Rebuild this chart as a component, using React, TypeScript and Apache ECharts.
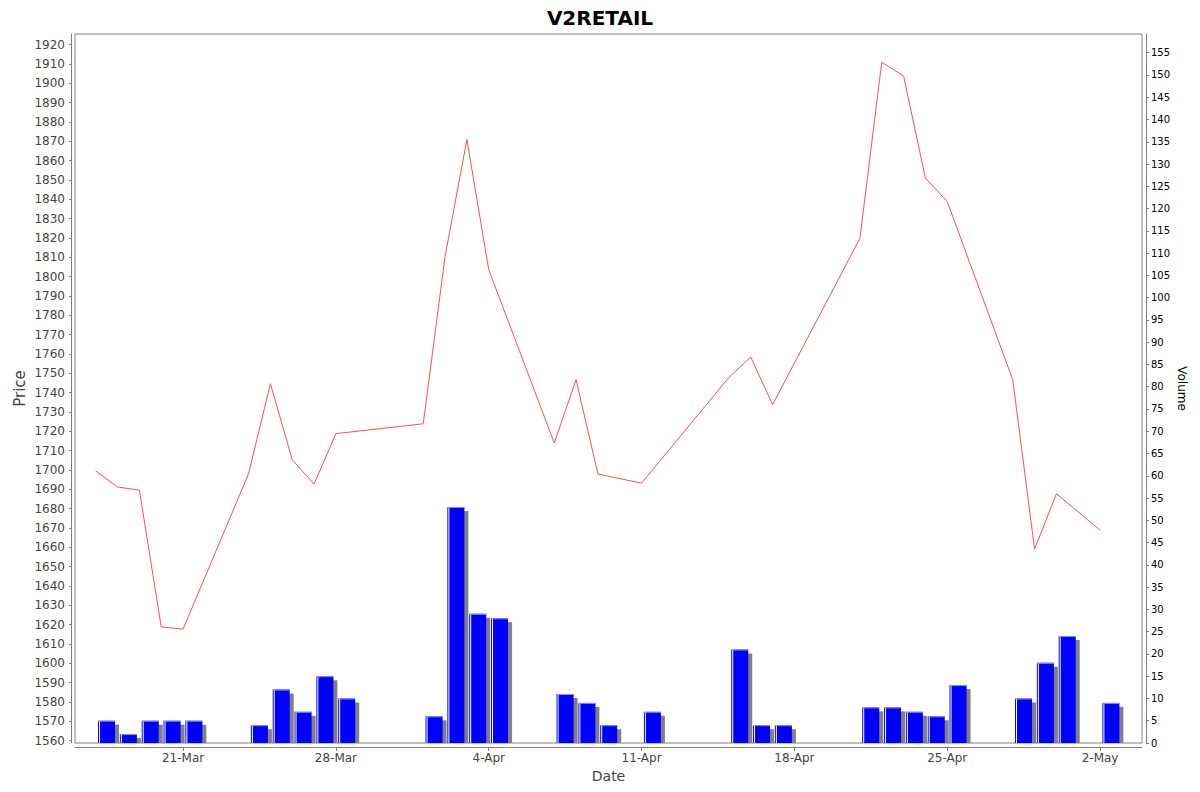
import { useEffect, useRef } from 'react';
import * as echarts from 'echarts';

const FONT = 'DejaVu Sans';
const DAY = 86400000;
const MONTHS = ['Jan', 'Feb', 'Mar', 'Apr', 'May', 'Jun', 'Jul', 'Aug', 'Sep', 'Oct', 'Nov', 'Dec'];

// trading days
const dates = [
  '2025-03-17', '2025-03-18', '2025-03-19', '2025-03-20', '2025-03-21',
  '2025-03-24', '2025-03-25', '2025-03-26', '2025-03-27', '2025-03-28',
  '2025-04-01', '2025-04-02', '2025-04-03', '2025-04-04',
  '2025-04-07', '2025-04-08', '2025-04-09', '2025-04-11',
  '2025-04-15', '2025-04-16', '2025-04-17',
  '2025-04-21', '2025-04-22', '2025-04-23', '2025-04-24', '2025-04-25',
  '2025-04-28', '2025-04-29', '2025-04-30', '2025-05-02'
];

const prices = [
  1699.5, 1691.2, 1689.6, 1618.8, 1617.7,
  1698.1, 1744.6, 1705.3, 1692.7, 1718.8,
  1723.9, 1810.5, 1870.9, 1803.6,
  1714.0, 1746.7, 1697.9, 1693.2,
  1747.9, 1758.4, 1733.8,
  1819.8, 1910.9, 1903.8, 1851.0, 1838.8,
  1746.7, 1659.1, 1687.7, 1668.9
];

const volumes = [
  5, 2, 5, 5, 5,
  4, 12, 7, 15, 10,
  6, 53, 29, 28,
  11, 9, 4, 7,
  21, 4, 4,
  8, 8, 7, 6, 13,
  10, 18, 24, 9
];

const dateTicks = ['2025-03-21', '2025-03-28', '2025-04-04', '2025-04-11', '2025-04-18', '2025-04-25', '2025-05-02'];

const priceTicks: number[] = [];
for (let p = 1560; p <= 1920; p += 10) priceTicks.push(p);
const volumeTicks: number[] = [];
for (let v = 0; v <= 155; v += 5) volumeTicks.push(v);

function toTime(s: string) {
  const [y, m, d] = s.split('-').map(Number);
  return new Date(y, m - 1, d).getTime();
}

function renderVolumeBar(params, api) {
  const t = api.value(0);
  const v = api.value(1);
  const tl = api.coord([t + 0.105 * DAY, v]);
  const br = api.coord([t + 0.885 * DAY, 0]);
  const w = br[0] - tl[0];
  const h = br[1] - tl[1];
  return {
    type: 'group',
    children: [
      { type: 'rect', shape: { x: tl[0] + 4, y: tl[1] + 4, width: w, height: Math.max(h - 4, 0) }, style: { fill: '#808080' } },
      { type: 'rect', shape: { x: tl[0], y: tl[1], width: w, height: h }, style: { fill: '#0000ff' } },
      { type: 'line', shape: { x1: tl[0] + 1.5, y1: tl[1], x2: tl[0] + 1.5, y2: br[1] }, style: { stroke: '#ffffff', lineWidth: 1 } },
      { type: 'line', shape: { x1: tl[0], y1: tl[1] + 0.5, x2: br[0], y2: tl[1] + 0.5 }, style: { stroke: '#8c8cff', lineWidth: 1 } }
    ]
  };
}

export default function App() {
  const chartRef = useRef(null);

  useEffect(() => {
    if (!chartRef.current) return;
    const chart = echarts.init(chartRef.current, null, { renderer: 'svg' });

    const ref = toTime('2025-03-21');
    const tickTimes = dateTicks.map(toTime);

    chart.setOption({
      animation: false,
      backgroundColor: '#ffffff',
      textStyle: { fontFamily: FONT },
      title: {
        text: 'V2RETAIL',
        left: 'center',
        top: 3,
        textStyle: { fontFamily: FONT, fontSize: 20, fontWeight: 'bold', color: '#000000' }
      },
      grid: {
        left: 75,
        right: 58,
        top: 34,
        bottom: 49,
        show: true,
        borderColor: '#808080',
        borderWidth: 1,
        backgroundColor: 'transparent'
      },
      xAxis: {
        type: 'value',
        min: ref - 4.95 * DAY,
        max: ref + 43.92 * DAY,
        offset: 4,
        axisLine: { show: true, onZero: false, lineStyle: { color: '#808080', width: 1 } },
        axisTick: { show: true, length: 4, customValues: tickTimes, lineStyle: { color: '#808080' } },
        axisLabel: {
          customValues: tickTimes,
          color: '#444444',
          fontSize: 12,
          fontFamily: FONT,
          margin: 5,
          hideOverlap: false,
          formatter: (val: number) => {
            const d = new Date(val);
            return `${d.getDate()}-${MONTHS[d.getMonth()]}`;
          }
        },
        splitLine: { show: false },
        name: 'Date',
        nameLocation: 'middle',
        nameGap: 22,
        nameMoveOverlap: false,
        nameTextStyle: { fontFamily: FONT, fontSize: 14, color: '#444444' }
      },
      yAxis: [
        {
          type: 'value',
          position: 'left',
          min: 1558.8,
          max: 1925.5,
          offset: 4,
          axisLine: { show: true, onZero: false, lineStyle: { color: '#808080', width: 1 } },
          axisTick: { show: true, length: 2, customValues: priceTicks, lineStyle: { color: '#808080' } },
          axisLabel: {
            customValues: priceTicks,
            color: '#444444',
            fontSize: 12,
            fontFamily: FONT,
            margin: 6,
            formatter: (v: number) => String(v)
          },
          splitLine: { show: false },
          name: 'Price',
          nameLocation: 'middle',
          nameGap: 44,
          nameMoveOverlap: false,
          nameTextStyle: { fontFamily: FONT, fontSize: 15, color: '#444444' }
        },
        {
          type: 'value',
          position: 'right',
          min: 0,
          max: 159.2,
          offset: 4,
          axisLine: { show: true, onZero: false, lineStyle: { color: '#808080', width: 1 } },
          axisTick: { show: true, length: 3, customValues: volumeTicks, lineStyle: { color: '#808080' } },
          axisLabel: { customValues: volumeTicks, color: '#000000', fontSize: 10, fontFamily: FONT, margin: 5 },
          splitLine: { show: false },
          name: 'Volume',
          nameLocation: 'middle',
          nameRotate: -90,
          nameGap: 30,
          nameMoveOverlap: false,
          nameTextStyle: { fontFamily: FONT, fontSize: 12, color: '#000000' }
        }
      ],
      series: [
        {
          name: 'Volume',
          type: 'custom',
          xAxisIndex: 0,
          yAxisIndex: 1,
          renderItem: renderVolumeBar,
          encode: { x: 0, y: 1 },
          clip: true,
          data: dates.map((d, i) => [toTime(d), volumes[i]])
        },
        {
          name: 'Price',
          type: 'line',
          xAxisIndex: 0,
          yAxisIndex: 0,
          showSymbol: false,
          symbol: 'none',
          lineStyle: { color: '#ff5050', width: 1 },
          data: dates.map((d, i) => [toTime(d), prices[i]]),
          z: 3
        }
      ]
    });

    return () => {
      chart.dispose();
    };
  }, []);

  return (
    <div
      ref={chartRef}
      style={{ position: 'absolute', left: 0, top: 0, width: '1200px', height: '792px' }}
    />
  );
}
